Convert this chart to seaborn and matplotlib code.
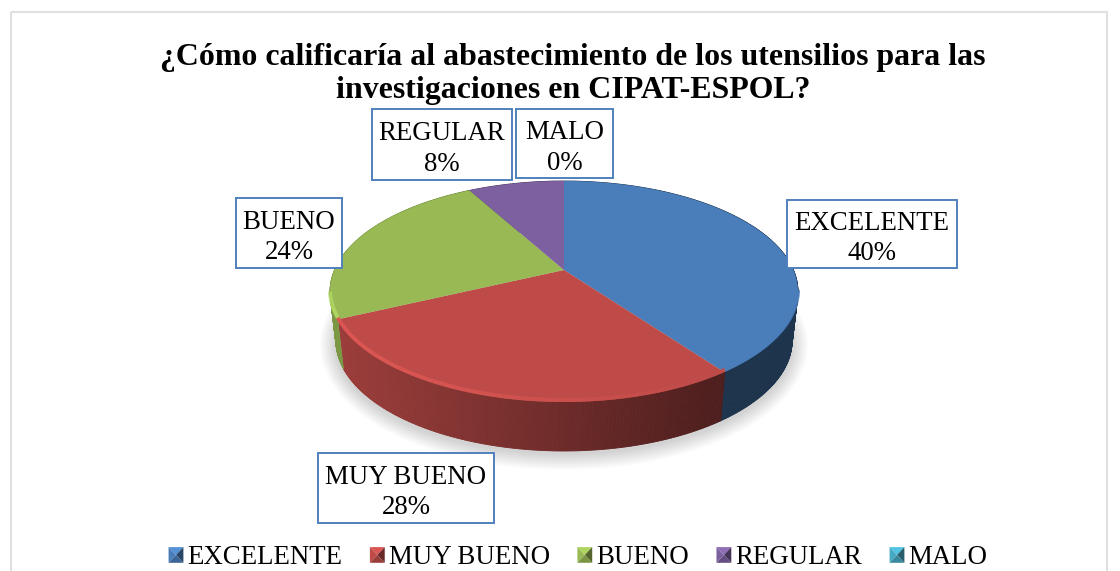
import numpy as np
import matplotlib
matplotlib.use('Agg')
import matplotlib.pyplot as plt
import seaborn as sns
from matplotlib.collections import PolyCollection, LineCollection
from matplotlib.legend_handler import HandlerBase
from matplotlib.patches import Ellipse, Polygon, Rectangle, Wedge
from matplotlib.path import Path
from matplotlib.transforms import Affine2D, Transform

categories = ['EXCELENTE', 'MUY BUENO', 'BUENO', 'REGULAR', 'MALO']
values = [40, 28, 24, 8, 0]
title = '¿Cómo calificaría al abastecimiento de los utensilios para las\ninvestigaciones en CIPAT-ESPOL?'

colors = ['#4a7ebb', '#be4b48', '#98b954', '#7d60a0', '#46aac5']
box_color = '#4f81bd'

# label boxes in pixels: left, top, right, bottom
boxes = {
    'EXCELENTE': (787, 200, 957, 268),
    'MUY BUENO': (318, 453, 494, 523),
    'BUENO': (236, 198, 342, 268),
    'REGULAR': (372, 109, 512, 180),
    'MALO': (516, 109, 613, 178),
}

# perspective of the disc
CX, CY = 564, 270
SCALE_X, SCALE_Y, PERSP = 229.5, 106.3, 0.1946
DEPTH, BOTTOM_SHRINK = 49, 0.975

sns.set_theme(style='white')
plt.rcParams['font.family'] = ['Liberation Serif', 'DejaVu Serif']


def tilt(pts):
    pts = np.asarray(pts, dtype=float)
    w = 1 + PERSP * pts[:, 1]
    return np.column_stack([CX + SCALE_X * pts[:, 0] / w, CY - SCALE_Y * pts[:, 1] / w])


class Tilt(Transform):
    input_dims = 2
    output_dims = 2

    def transform_non_affine(self, values):
        return tilt(values)

    def transform_path_non_affine(self, path):
        polys = path.transformed(Affine2D().scale(1000)).to_polygons(closed_only=False)
        if len(polys) == 0:
            return Path(np.empty((0, 2)))
        return Path(tilt(np.vstack(polys) / 1000))


class BevelHandler(HandlerBase):
    def create_artists(self, legend, orig_handle, xdescent, ydescent, width, height, fontsize, trans):
        base = np.array(orig_handle.get_facecolor()[:3])
        x0, y0 = -xdescent, -ydescent
        x1, y1 = x0 + width, y0 + height
        mid = ((x0 + x1) / 2, (y0 + y1) / 2)
        faces = [
            ([(x0, y1), (x1, y1), mid], np.clip(base * 1.15, 0, 1)),
            ([(x0, y0), (x0, y1), mid], base),
            ([(x1, y0), (x1, y1), mid], base * 0.55),
            ([(x0, y0), (x1, y0), mid], base * 0.8),
        ]
        return [Polygon(p, closed=True, facecolor=c, edgecolor='none', transform=trans) for p, c in faces]


fig = plt.figure(figsize=(11.2, 5.71), dpi=100)
ax = fig.add_axes([0, 0, 1, 1])

wedges, _ = ax.pie(values, colors=colors, startangle=90, counterclock=False, radius=1,
                   wedgeprops={'linewidth': 0, 'zorder': 5})
for w in wedges:
    w.set_transform(Tilt() + ax.transData)
ax.set_aspect('auto')
ax.set_xlim(0, 1120)
ax.set_ylim(571, 0)

# outer frame
ax.add_patch(Rectangle((11, 12), 1096, 600, fill=False, edgecolor='#e0e0e0', linewidth=1.5, zorder=1))

# soft shadow under the disc
for grow in np.arange(0, 16, 1.5):
    ax.add_patch(Ellipse((564, 345), 2 * (229 + grow), 2 * (110 + grow), facecolor='#000000',
                         edgecolor='none', alpha=0.014, zorder=2))

# side wall, one thin strip after another, darker towards the right
for w in wedges:
    if w.theta2 - w.theta1 <= 0:
        continue
    ang = np.radians(np.arange(w.theta1, w.theta2 + 0.5, 0.5))
    top = tilt(np.column_stack([np.cos(ang), np.sin(ang)]))
    low = np.column_stack([CX + (top[:, 0] - CX) * BOTTOM_SHRINK, top[:, 1] + DEPTH])
    quads, shades = [], []
    base = np.array(w.get_facecolor()[:3])
    for i in range(len(ang) - 1):
        quads.append([top[i], top[i + 1], low[i + 1], low[i]])
        shades.append(base * np.clip(0.82 - 0.42 * (top[i, 0] - 338) / 384, 0.41, 0.82))
    ax.add_collection(PolyCollection(quads, facecolors=shades, edgecolors=shades, linewidths=0.6, zorder=3))

    # bevel along the front rim of the top face
    segs, rim = [], []
    for i in range(len(ang) - 1):
        if top[i, 1] < 293:
            continue
        f = np.clip((top[i, 0] - 338) / 384, 0, 1)
        segs.append([top[i] - [0, 2], top[i + 1] - [0, 2]])
        rim.append(np.clip(base * (1.18 - 0.18 * f), 0, 1))
    ax.add_collection(LineCollection(segs, colors=rim, linewidths=2.8, zorder=6))

# labels in boxes
for cat, val in zip(categories, values):
    x0, y0, x1, y1 = boxes[cat]
    ax.add_patch(Rectangle((x0, y0), x1 - x0, y1 - y0, facecolor='white', edgecolor=box_color,
                           linewidth=1.4, zorder=7))
    ax.text((x0 + x1) / 2, (y0 + y1) / 2 + 4.5, f'{cat}\n{val}%', ha='center', va='center', fontsize=19.4,
            color='black', linespacing=1.3, zorder=8)

ax.text(573, 74, title, ha='center', va='center', fontsize=22.95, fontweight='bold', color='black',
        linespacing=1.2, zorder=8)

ax.legend(wedges, categories, ncol=5, loc='center', bbox_to_anchor=(578, 558), bbox_transform=ax.transData,
          frameon=False, fontsize=19.4, handlelength=0.55, handleheight=0.52, handletextpad=0.15,
          columnspacing=1.02, borderpad=0, labelcolor='black',
          handler_map={Wedge: BevelHandler()})

fig.savefig('out.png', dpi=100)
